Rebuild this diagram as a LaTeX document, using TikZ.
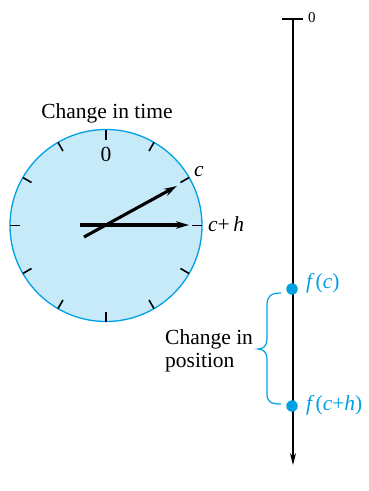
\documentclass[tikz,border=0pt]{standalone}
\usepackage{fontspec}
\setmainfont{Liberation Serif}
\usetikzlibrary{arrows.meta,calc}
\definecolor{cy}{RGB}{0,160,227}
\definecolor{lb}{RGB}{199,234,249}
\newcommand{\iv}[1]{\textit{#1}}
\begin{document}
\begin{tikzpicture}[x=1pt,y=-1pt,
  lab/.style={font=\fontsize{21.5}{25}\selectfont, inner sep=0pt},
  clab/.style={lab, text=cy},
  hand/.style={line width=3.1pt, -{Stealth[length=13pt,width=7.5pt]}},
  tick/.style={line width=1.6pt},
  dot/.style={circle, fill=cy, inner sep=0pt, minimum size=11.5pt}]
\useasboundingbox (0,0) rectangle (368,491);
% clock
\coordinate (ctr) at (106,225.5);
\draw[cy, fill=lb, line width=1.3pt] (ctr) circle[radius=96];
\foreach \a in {0,30,...,330}
  \draw[tick] ($(ctr)+(\a:86)$) -- ($(ctr)+(\a:96)$);
\node[lab] (t0) at (106,154) {0};
\node[lab] (title) at (107,113) {Change in time};
\coordinate (h1s) at (80,225);
\coordinate (h1e) at (189,225);
\draw[hand] (h1s) -- (h1e);
\coordinate (h2s) at (84,237);
\coordinate (h2e) at (177,186);
\draw[hand] (h2s) -- (h2e);
\node[lab, anchor=west] (lc) at (194,172) {\iv{c}};
\node[lab, anchor=west] (lch) at (208,224) {\iv{c}+\,\iv{h}};
% position axis
\coordinate (top) at (293,19);
\coordinate (bot) at (293,465);
\draw[line width=1.5pt, -{Stealth[length=12pt,width=6pt]}] (top) -- (bot);
\coordinate (tl) at (282,19);
\coordinate (tr) at (303,19);
\draw[line width=1.5pt] (tl) -- (tr);
\node[font=\fontsize{15}{17}\selectfont, inner sep=0pt, anchor=west] (z0) at (308,18) {0};
\node[dot] (fc) at (292,289) {};
\node[dot] (fch) at (292,406) {};
\node[clab, anchor=west] (lfc) at (306,283) {\iv{f}\kern1pt(\iv{c})};
\node[clab, anchor=west] (lfch) at (306,405) {\iv{f}\kern1pt(\iv{c}+\iv{h})};
\draw[cy, line width=1.2pt] (281,293) .. controls (271,293) and (267,296) .. (267,305) -- (267,339) .. controls (267,346) and (263,349) .. (258,349) .. controls (263,349) and (267,352) .. (267,359) -- (267,394) .. controls (267,402) and (271,404) .. (281,404);
\node[lab, align=left, anchor=west, font=\fontsize{21.5}{23}\selectfont] (cp) at (165,351) {Change in\\position};
\end{tikzpicture}
\end{document}
